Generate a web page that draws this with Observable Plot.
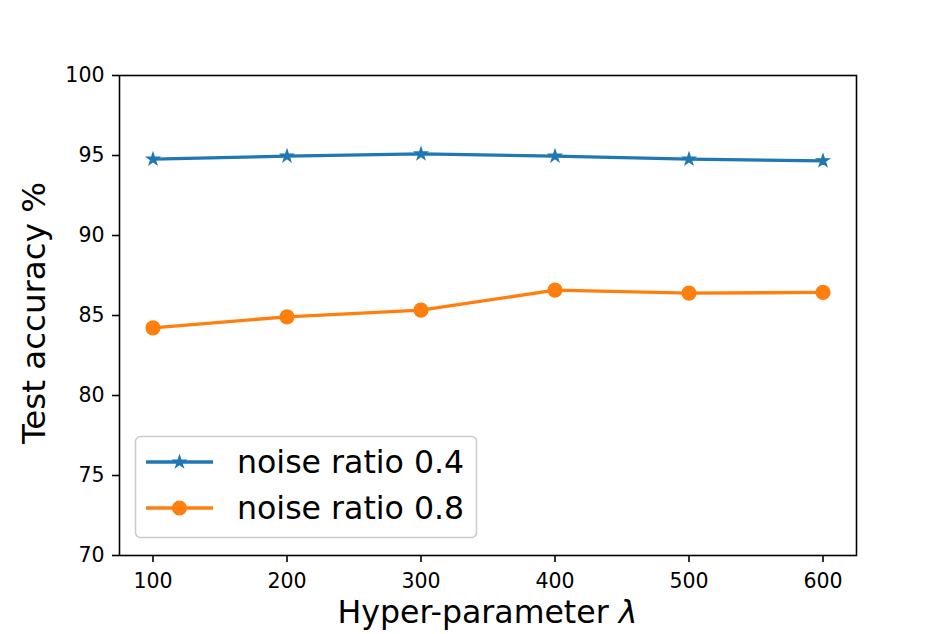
<!DOCTYPE html>
<html>
<head>
<meta charset="utf-8">
<script src="https://cdn.jsdelivr.net/npm/d3@7"></script>
<script src="https://cdn.jsdelivr.net/npm/@observablehq/plot@0.6"></script>
<style>
  html, body { margin: 0; padding: 0; background: #fff; }
  #chart svg { display: block; }
</style>
</head>
<body>
<div id="chart"></div>
<script>
const lambdas = [100, 200, 300, 400, 500, 600];
const noise04 = [94.77, 94.96, 95.10, 94.96, 94.77, 94.67];
const noise08 = [84.23, 84.92, 85.33, 86.58, 86.40, 86.44];
const seriesNames = ["noise ratio 0.4", "noise ratio 0.8"];
const seriesColors = ["#1f77b4", "#ff7f0e"];
const xTicks = [100, 200, 300, 400, 500, 600];
const yTicks = [70, 75, 80, 85, 90, 95, 100];

const s1 = lambdas.map((x, i) => ({x, y: noise04[i]}));
const s2 = lambdas.map((x, i) => ({x, y: noise08[i]}));

const W = 952, H = 634;
const mL = 119, mR = 96, mT = 75, mB = 79;
const font = "DejaVu Sans, sans-serif";
const starR = 3.9, circR = 7.6, lw = 3.3;

const plot = Plot.plot({
  width: W,
  height: H,
  marginLeft: mL,
  marginRight: mR,
  marginTop: mT,
  marginBottom: mB,
  style: {fontFamily: font, color: "black", background: "white"},
  x: {domain: [75, 625]},
  y: {domain: [70, 100]},
  marks: [
    Plot.axisX({ticks: xTicks, tickSize: 7, tickPadding: 11, fontSize: 20.5, label: null, strokeWidth: 1.6}),
    Plot.axisY({ticks: yTicks, tickSize: 7, tickPadding: 8, fontSize: 20.5, label: null, strokeWidth: 1.6}),
    Plot.line(s1, {x: "x", y: "y", stroke: seriesColors[0], strokeWidth: lw}),
    Plot.dot(s1, {x: "x", y: "y", symbol: "star", r: starR, fill: seriesColors[0], stroke: seriesColors[0], strokeWidth: 1.2}),
    Plot.line(s2, {x: "x", y: "y", stroke: seriesColors[1], strokeWidth: lw}),
    Plot.dot(s2, {x: "x", y: "y", symbol: "circle", r: circR, fill: seriesColors[1], stroke: "none"}),
    Plot.frame({stroke: "black", strokeWidth: 1.6})
  ]
});

document.getElementById("chart").appendChild(plot);

const svg = d3.select(plot);

// Axis labels
const xl = svg.append("text")
  .attr("x", mL + (W - mL - mR) / 2)
  .attr("y", 623)
  .attr("text-anchor", "middle")
  .attr("font-family", font)
  .attr("font-size", 31.6)
  .attr("fill", "black");
xl.append("tspan").text("Hyper-parameter ");
xl.append("tspan").attr("font-style", "italic").text("λ");

svg.append("text")
  .attr("transform", `translate(45, ${mT + (H - mT - mB) / 2 - 2}) rotate(-90)`)
  .attr("text-anchor", "middle")
  .attr("font-family", font)
  .attr("font-size", 32.5)
  .attr("fill", "black")
  .text("Test accuracy %");

// Legend
const lg = svg.append("g").attr("text-anchor", "start");
lg.append("rect")
  .attr("x", 135.5).attr("y", 436.5)
  .attr("width", 341).attr("height", 101)
  .attr("rx", 5)
  .attr("fill", "white").attr("fill-opacity", 0.8)
  .attr("stroke", "#cccccc").attr("stroke-width", 1.6);
const rows = [462, 508];
const sym = [d3.symbol(d3.symbolStar, Math.PI * starR * starR), d3.symbol(d3.symbolCircle, Math.PI * circR * circR)];
seriesNames.forEach((name, i) => {
  const y = rows[i];
  lg.append("line")
    .attr("x1", 146).attr("x2", 213).attr("y1", y).attr("y2", y)
    .attr("stroke", seriesColors[i]).attr("stroke-width", lw);
  lg.append("path")
    .attr("d", sym[i]())
    .attr("transform", `translate(179.5, ${y})`)
    .attr("fill", seriesColors[i])
    .attr("stroke", i === 0 ? seriesColors[i] : "none")
    .attr("stroke-width", 1.2);
  lg.append("text")
    .attr("x", 237).attr("y", y)
    .attr("dy", "0.35em")
    .attr("text-anchor", "start")
    .attr("font-family", font)
    .attr("font-size", 31.6)
    .attr("fill", "black")
    .text(name);
});
</script>
</body>
</html>
